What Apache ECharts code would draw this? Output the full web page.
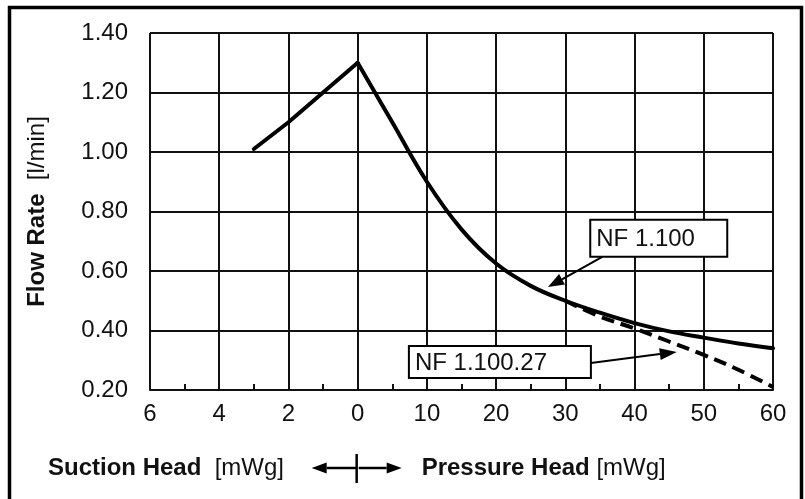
<!DOCTYPE html>
<html>
<head>
<meta charset="utf-8">
<script src="https://cdn.jsdelivr.net/npm/echarts@6/dist/echarts.min.js"></script>
<style>
  html, body { margin: 0; padding: 0; background: #fff; }
  #chart { width: 805px; height: 499px; }
</style>
</head>
<body>
<div id="chart"></div>
<script>
// x axis: left of 0 is suction head (2 mWg per cell), right of 0 is pressure head (10 mWg per cell)
var xTickLabels = ['6', '4', '2', '0', '10', '20', '30', '40', '50', '60'];

// NF 1.100, suction side [mWg] / [l/min]
var suctionHead = [3, 2, 1, 0];
var suctionFlow = [1.01, 1.10, 1.20, 1.30];

// NF 1.100, pressure side
var pressureHead = [0, 5, 10, 15, 20, 25, 30, 35, 40, 45, 50, 55, 60];
var pressureFlow = [1.30, 1.10, 0.90, 0.74, 0.625, 0.55, 0.50, 0.46, 0.425, 0.397, 0.376, 0.356, 0.34];

// NF 1.100.27 (dashed), branches off at ~30 mWg
var pressureHead27 = [30, 35, 40, 45, 50, 55, 60];
var pressureFlow27 = [0.50, 0.447, 0.407, 0.363, 0.318, 0.268, 0.21];

var FONT = '"Liberation Sans", Arial, sans-serif';
var INK = '#111';
var FS = 24;

function suctionX(h) { return -h / 2; }
function pressureX(p) { return p / 10; }
function pairs(xs, ys, fx) {
    return xs.map(function (x, i) { return [fx(x), ys[i]]; });
}

var chart = echarts.init(document.getElementById('chart'));

var option = {
    animation: false,
    backgroundColor: '#fff',
    grid: { left: 150, right: 32, top: 33, bottom: 109 },
    xAxis: {
        type: 'value',
        min: -3,
        max: 6,
        interval: 1,
        axisLine: { lineStyle: { color: INK, width: 2 } },
        axisTick: { show: false, inside: true },
        minorTick: { show: true, splitNumber: 2, length: 6, lineStyle: { color: INK, width: 2 } },
        splitLine: { show: true, lineStyle: { color: INK, width: 2 } },
        axisLabel: {
            margin: 12,
            fontSize: FS,
            fontFamily: FONT,
            color: INK,
            formatter: function (v) { return xTickLabels[Math.round(v) + 3]; }
        }
    },
    yAxis: {
        type: 'value',
        min: 0.2,
        max: 1.4,
        interval: 0.2,
        name: '{b|Flow Rate}  {n|[l/min]}',
        nameLocation: 'middle',
        nameRotate: 90,
        nameGap: 101,
        nameTextStyle: {
            color: INK,
            fontSize: FS,
            fontFamily: FONT,
            rich: {
                b: { fontWeight: 'bold', fontSize: FS, fontFamily: FONT, color: INK },
                n: { fontSize: FS, fontFamily: FONT, color: INK }
            }
        },
        axisLine: { show: true, lineStyle: { color: INK, width: 2 } },
        axisTick: { show: false },
        splitLine: { show: true, lineStyle: { color: INK, width: 2 } },
        axisLabel: {
            margin: 22,
            fontSize: FS,
            fontFamily: FONT,
            color: INK,
            formatter: function (v) { return v.toFixed(2); }
        }
    },
    series: [
        {
            name: 'NF 1.100 suction',
            type: 'line',
            data: pairs(suctionHead, suctionFlow, suctionX),
            showSymbol: false,
            lineStyle: { color: '#000', width: 4, cap: 'round', join: 'round' },
            z: 5
        },
        {
            name: 'NF 1.100',
            type: 'line',
            data: pairs(pressureHead, pressureFlow, pressureX),
            showSymbol: false,
            smooth: 0.4,
            lineStyle: { color: '#000', width: 4, cap: 'round', join: 'round' },
            z: 5
        },
        {
            name: 'NF 1.100.27',
            type: 'line',
            data: pairs(pressureHead27, pressureFlow27, pressureX),
            showSymbol: false,
            smooth: 0.4,
            lineStyle: { color: '#000', width: 4, type: [13, 7] },
            z: 4
        }
    ]
};
chart.setOption(option);

// ---- annotations, anchored in chart coordinates ----
function px(u, v) { return chart.convertToPixel({ gridIndex: 0 }, [u, v]); }

function arrow(x1, y1, x2, y2, len, half, w) {
    var dx = x2 - x1, dy = y2 - y1, d = Math.sqrt(dx * dx + dy * dy);
    var ux = dx / d, uy = dy / d;
    var bx = x2 - ux * len, by = y2 - uy * len;
    return [
        { type: 'line', z: 20, shape: { x1: x1, y1: y1, x2: bx, y2: by }, style: { stroke: '#000', lineWidth: w || 2 } },
        { type: 'polygon', z: 20, shape: { points: [[x2, y2], [bx - uy * half, by + ux * half], [bx + uy * half, by - ux * half]] }, style: { fill: '#000' } }
    ];
}

function labelBox(text, topLeft, w, h) {
    return [
        { type: 'rect', z: 20, shape: { x: topLeft[0], y: topLeft[1], width: w, height: h }, style: { fill: '#fff', stroke: '#000', lineWidth: 2 } },
        { type: 'text', z: 21, x: topLeft[0] + 6, y: topLeft[1] + h / 2 + 1, style: { text: text, fontSize: FS, fontFamily: FONT, fill: INK, verticalAlign: 'middle' } }
    ];
}

var box1 = px(pressureX(33.6), 0.772);
var tip1 = px(pressureX(27.5), 0.546);
var box2 = px(pressureX(7.4), 0.348);
var tip2 = px(pressureX(46.1), 0.328);
var zero = px(0, 0.2);

var elements = [];
elements = elements.concat(labelBox('NF 1.100', box1, 137, 37));
elements = elements.concat(arrow(box1[0] + 12, box1[1] + 37, tip1[0], tip1[1], 16, 6));
elements = elements.concat(labelBox('NF 1.100.27', box2, 182, 32));
elements = elements.concat(arrow(box2[0] + 182, box2[1] + 17, tip2[0], tip2[1], 17, 6));

// bottom axis caption with the suction / pressure split arrows
var capY = 468;
elements.push({
    type: 'text', z: 20, x: 48, y: capY,
    style: { text: '{b|Suction Head}  [mWg]', fontSize: FS, fontFamily: FONT, fill: INK, verticalAlign: 'middle',
        rich: { b: { fontWeight: 'bold', fontSize: FS, fontFamily: FONT, fill: INK } } }
});
elements.push({
    type: 'text', z: 20, x: zero[0] + 64, y: capY,
    style: { text: '{b|Pressure Head} [mWg]', fontSize: FS, fontFamily: FONT, fill: INK, verticalAlign: 'middle',
        rich: { b: { fontWeight: 'bold', fontSize: FS, fontFamily: FONT, fill: INK } } }
});
elements.push({ type: 'line', z: 20, shape: { x1: zero[0] - 1, y1: capY - 14, x2: zero[0] - 1, y2: capY + 15 }, style: { stroke: '#000', lineWidth: 2.5 } });
elements = elements.concat(arrow(zero[0] - 1, capY, zero[0] - 46, capY, 15, 5.5, 2.5));
elements = elements.concat(arrow(zero[0] + 1, capY, zero[0] + 44, capY, 15, 5.5, 2.5));

// outer frame (bottom edge falls outside the picture)
elements.push({ type: 'rect', z: 30, shape: { x: 9.5, y: 7.5, width: 792, height: 520 }, style: { fill: 'none', stroke: '#000', lineWidth: 3.5 } });

chart.setOption({ graphic: { elements: elements } });

window.addEventListener('resize', function () { chart.resize(); });
</script>
</body>
</html>
